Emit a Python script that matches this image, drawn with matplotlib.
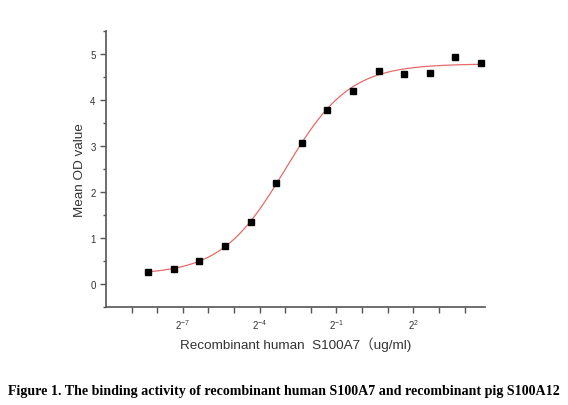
import numpy as np
import matplotlib
matplotlib.use("Agg")
import matplotlib.pyplot as plt
from matplotlib.ticker import FixedLocator, NullFormatter

plt.rcParams["font.family"] = ["Liberation Sans", "Noto Sans CJK SC"]
plt.rcParams["mathtext.fontset"] = "custom"
plt.rcParams["mathtext.rm"] = "Liberation Sans"
plt.rcParams["mathtext.it"] = "Liberation Sans"
plt.rcParams["axes.unicode_minus"] = False

# two-fold dilution series starting at 25 ug/ml
conc = [25 / 2 ** k for k in range(13, -1, -1)]
od = [0.26, 0.32, 0.50, 0.82, 1.34, 2.19, 3.06, 3.78, 4.20, 4.62, 4.55, 4.57, 4.92, 4.79]

# logistic fit parameters
A1 = 0.20
A2 = 4.78
x0 = 2 ** -3.0
p = 1.15

tick_exp = list(range(-9, 5))
label_exp = [-7, -4, -1, 2]

fig = plt.figure(figsize=(5.68, 4.06), dpi=100)
ax = fig.add_axes([0.1866, 0.2414, 0.6673, 0.6806])

xf = np.logspace(np.log2(conc[0]), np.log2(conc[-1]), 300, base=2)
yf = A2 + (A1 - A2) / (1 + (xf / x0) ** p)
ax.plot(xf, yf, color="#e56b6b", lw=0.9)
ax.plot(conc, od, "s", color="black", ms=4.8)

ax.set_xscale("log", base=2)
ax.set_xlim(2 ** -10, 2 ** 4.8)
ax.set_ylim(-0.5, 5.5)

ax.xaxis.set_major_locator(FixedLocator([2.0 ** e for e in label_exp]))
ax.xaxis.set_minor_locator(FixedLocator([2.0 ** e for e in tick_exp if e not in label_exp]))
ax.xaxis.set_minor_formatter(NullFormatter())
ax.set_xticklabels([r"$2^{%d}$" % e for e in label_exp])
ax.set_yticks([0, 1, 2, 3, 4, 5])
ax.set_yticks(np.arange(-0.5, 5.6, 1.0), minor=True)

for s in ["top", "right"]:
    ax.spines[s].set_visible(False)
for s in ["left", "bottom"]:
    ax.spines[s].set_color("#555555")
    ax.spines[s].set_linewidth(1.2)

ax.tick_params(axis="both", which="both", color="#555555", width=1.0,
               labelsize=7, labelcolor="#333333")
ax.tick_params(axis="x", which="both", length=4, pad=3)
ax.tick_params(axis="y", which="major", length=4)
ax.tick_params(axis="y", which="minor", length=2.5)

ax.set_ylabel("Mean OD value", fontsize=9.7, color="#333333", labelpad=3)
ax.set_xlabel("Recombinant human  S100A7（ug/ml)", fontsize=9.7, color="#333333", labelpad=4)

fig.text(0.5, 0.036, "Figure 1. The binding activity of recombinant human S100A7 and recombinant pig S100A12",
         ha="center", va="center", fontsize=10.1, fontweight="bold",
         family="Liberation Serif", color="black")

fig.savefig("out.png", dpi=100)
